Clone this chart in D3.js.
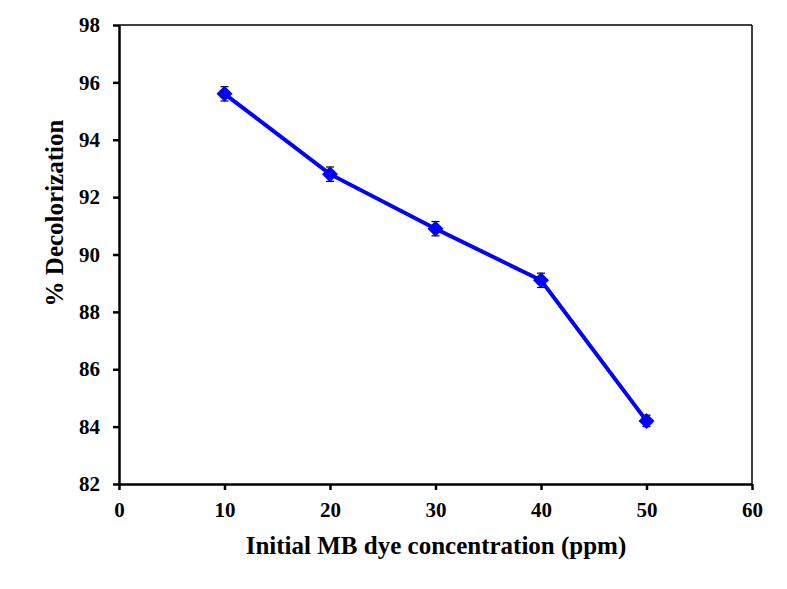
<!DOCTYPE html>
<html><head><meta charset="utf-8">
<script src="https://cdn.jsdelivr.net/npm/d3@7"></script>
<style>body{margin:0;background:#fff}svg{display:block}</style>
</head><body>
<script>
const concentrations = [10, 20, 30, 40, 50];
const decolorization = [95.6, 92.8, 90.9, 89.1, 84.2];
const errors = [0.25, 0.25, 0.25, 0.25, 0.2];
const xTicks = [0, 10, 20, 30, 40, 50, 60];
const yTicks = [82, 84, 86, 88, 90, 92, 94, 96, 98];

const W = 787, H = 589;
const m = {left: 119, right: 752, top: 25, bottom: 484};
const svg = d3.select("body").append("svg").attr("width", W).attr("height", H);
const x = d3.scaleLinear().domain([0, 60]).range([m.left, m.right]);
const y = d3.scaleLinear().domain([82, 98]).range([m.bottom, m.top]);
const font = "'Liberation Serif','Times New Roman',serif";

// frame top/right
svg.append("line").attr("x1", m.left).attr("x2", m.right).attr("y1", m.top).attr("y2", m.top).attr("stroke", "#000").attr("stroke-width", 1.5);
svg.append("line").attr("x1", m.right).attr("x2", m.right).attr("y1", m.top).attr("y2", m.bottom).attr("stroke", "#000").attr("stroke-width", 1.5);

const xAxis = svg.append("g").attr("transform", `translate(0,${m.bottom})`)
  .call(d3.axisBottom(x).tickValues(xTicks).tickSize(6).tickSizeOuter(0).tickPadding(12));
const yAxis = svg.append("g").attr("transform", `translate(${m.left},0)`)
  .call(d3.axisLeft(y).tickValues(yTicks).tickSize(6).tickSizeOuter(0).tickPadding(13));
[xAxis, yAxis].forEach(g => {
  g.select(".domain").attr("stroke", "#000").attr("stroke-width", 2.5);
  g.selectAll(".tick line").attr("stroke", "#000").attr("stroke-width", 2.5);
  g.selectAll("text").attr("font-family", font).attr("font-weight", "bold").attr("font-size", 21).attr("fill", "#000");
});

const data = concentrations.map((c, i) => ({c, v: decolorization[i], e: errors[i]}));

svg.append("path").datum(data)
  .attr("d", d3.line().x(d => x(d.c)).y(d => y(d.v)))
  .attr("fill", "none").attr("stroke", "#0000ff").attr("stroke-width", 4);

// error bars
const eb = svg.append("g");
data.forEach(d => {
  eb.append("line").attr("x1", x(d.c)).attr("x2", x(d.c)).attr("y1", y(d.v + d.e)).attr("y2", y(d.v - d.e)).attr("stroke", "#000").attr("stroke-width", 1);
  [d.v + d.e, d.v - d.e].forEach(v => eb.append("line").attr("x1", x(d.c) - 4).attr("x2", x(d.c) + 4).attr("y1", y(v)).attr("y2", y(v)).attr("stroke", "#000").attr("stroke-width", 1.2));
});

svg.append("g").selectAll("path").data(data).join("path")
  .attr("transform", d => `translate(${x(d.c)},${y(d.v)})`)
  .attr("d", "M0,-8L8,0L0,8L-8,0Z")
  .attr("fill", "#0000ff");

svg.append("text").attr("x", 436).attr("y", 554)
  .attr("text-anchor", "middle").attr("font-family", font).attr("font-weight", "bold").attr("font-size", 25)
  .text("Initial MB dye concentration (ppm)");
svg.append("text").attr("transform", `translate(63,213) rotate(-90)`)
  .attr("text-anchor", "middle").attr("font-family", font).attr("font-weight", "bold").attr("font-size", 25)
  .text("% Decolorization");
</script>
</body></html>
